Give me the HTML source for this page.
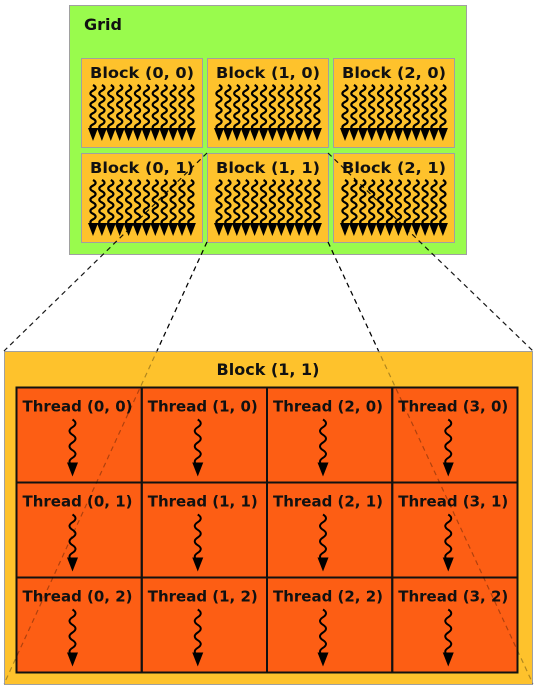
<!DOCTYPE html>
<html><head><meta charset="utf-8"><style>
html,body{margin:0;padding:0;background:#fff;width:547px;height:694px;overflow:hidden}
svg text{font-family:"DejaVu Sans","Liberation Sans",sans-serif;font-weight:bold;fill:#111}
</style></head><body>
<svg id="s" width="547" height="694" viewBox="0 0 547 694" xmlns="http://www.w3.org/2000/svg">
<rect x="69.5" y="5.5" width="397" height="249" fill="#99fb4d" stroke="#a0a0a0"/>
<text x="84" y="30" font-size="16">Grid</text>
<g id="blocks"></g>
<rect x="4.5" y="351.5" width="528" height="333" fill="#fec22c" stroke="#a0a0a0"/>
<text x="268" y="375" font-size="16" text-anchor="middle">Block (1, 1)</text>
<g id="threads"></g>
<g id="lines"></g>
</svg>
<script>
const NS='http://www.w3.org/2000/svg';
const blockCols=[0,1,2], blockRows=[0,1];
const threadCols=[0,1,2,3], threadRows=[0,1,2];
function el(t,a,p){const e=document.createElementNS(NS,t);for(const k in a)e.setAttribute(k,a[k]);p.appendChild(e);return e;}
function squig(x,y0,y1,amp,waves){let d='M'+x+' '+y0;const h=(y1-y0)/(waves*2);for(let i=0;i<waves*2;i++){const s=i%2?-1:1;const ya=y0+h*i;d+=' Q'+(x+s*amp*2)+' '+(ya+h/2)+' '+x+' '+(ya+h);}return d;}
const bg=document.getElementById('blocks');
blockRows.forEach(r=>blockCols.forEach(c=>{
  const x=81+c*126,y=58+r*95;
  const g=el('g',{},bg);
  
  
  el('rect',{x:x+.5,y:y+.5,width:121,height:89,fill:'#fec22c',stroke:'#a0a0a0'},g);
  const t=el('text',{x:x+61,y:y+20,'font-size':15.5,'text-anchor':'middle','textLength':104,'lengthAdjust':'spacingAndGlyphs'},g);
  t.textContent='Block ('+c+', '+r+')';
  for(let i=0;i<12;i++){
    const sx=x+12+i*8.9;
    el('path',{d:squig(sx,y+27,y+72,2.6,4),fill:'none',stroke:'#000','stroke-width':2.2},g);
    el('polygon',{points:(sx-5)+','+(y+70)+' '+(sx+5)+','+(y+70)+' '+sx+','+(y+83),fill:'#000'},g);
  }
}));
const tg=document.getElementById('threads');
el('rect',{x:16.5,y:387.5,width:501,height:285,fill:'#fd5e14',stroke:'#111','stroke-width':2},tg);
threadRows.forEach(r=>threadCols.forEach(c=>{
  const x=16.5+c*125.25,y=387.5+r*95;
  const g=el('g',{},tg);
  
  
  el('rect',{x:x,y:y,width:125.25,height:95,fill:'none',stroke:'#111','stroke-width':2},g);
  const t=el('text',{x:x+61,y:y+24,'font-size':15,'text-anchor':'middle','textLength':110,'lengthAdjust':'spacingAndGlyphs'},g);
  t.textContent='Thread ('+c+', '+r+')';
  const cx=x+56;
  el('path',{d:squig(cx,y+32,y+78,3,3),fill:'none',stroke:'#000','stroke-width':2},g);
  el('polygon',{points:(cx-5.5)+','+(y+75)+' '+(cx+5.5)+','+(y+75)+' '+cx+','+(y+89),fill:'#000'},g);
}));
const lg=document.getElementById('lines');
[[207,153,4,351],[328,153,533,351],[207,242,4,684],[328,242,533,684]].forEach((l,i)=>{
  const ln=el('line',{x1:l[0],y1:l[1],x2:l[2],y2:l[3],stroke:'#000','stroke-width':1.2,'stroke-dasharray':'5,4'},lg);
  
  
  ln.setAttribute('opacity', i>=2?'0.3':'0.9');
});
[[207,242,4,684],[328,242,533,684]].forEach((l,i)=>{
  const t=(351-l[1])/(l[3]-l[1]);
  const ln=el('line',{x1:l[0],y1:l[1],x2:l[0]+(l[2]-l[0])*t,y2:351,stroke:'#000','stroke-width':1.2,'stroke-dasharray':'5,4'},lg);
  
  
});
</script>
</body></html>
